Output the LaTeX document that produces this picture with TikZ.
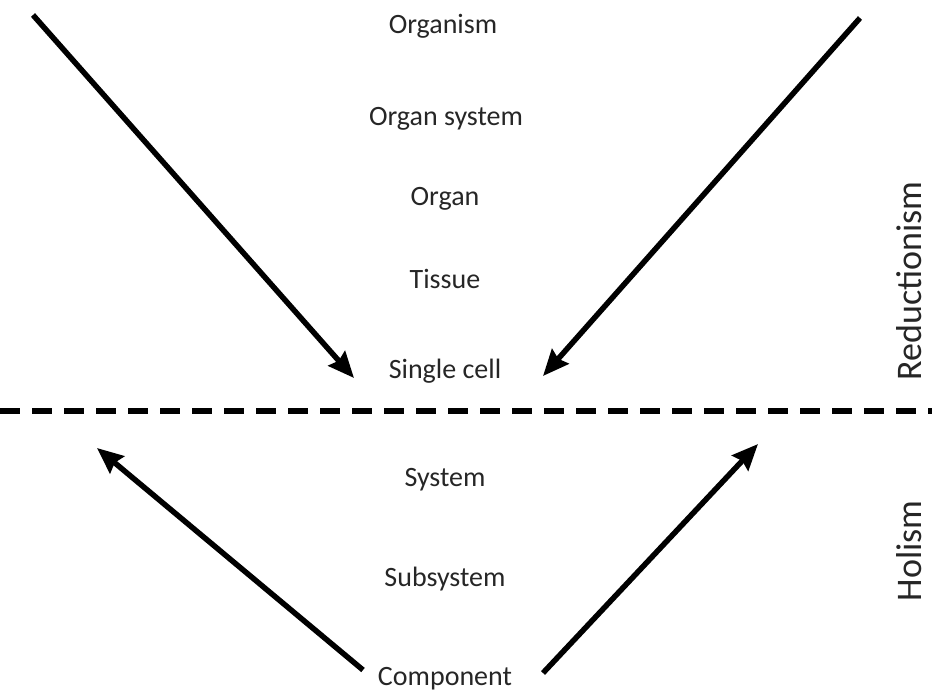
\documentclass[tikz,border=0pt]{standalone}
\usepackage{fontspec}
\setmainfont{Carlito}
\usetikzlibrary{arrows.meta,positioning}

\begin{document}
\begin{tikzpicture}[
  x=1pt, y=-1pt,
  font=\fontsize{28}{32}\selectfont,
  >={Stealth[length=26pt, width=22pt, inset=3pt]},
  level/.style={text=black!85, inner sep=0pt, anchor=base},
  side/.style={text=black!85, inner sep=0pt, rotate=90, anchor=base,
    text depth=0pt, font=\fontsize{36}{40}\selectfont},
  arrow/.style={->, line width=5.5pt, black},
  divide/.style={line width=5.5pt, black, dash pattern=on 20pt off 12pt}
]
  \useasboundingbox (0,0) rectangle (932,691);

  % levels of organisation
  \node[level] (organism)  at (443,33)  {Organism};
  \node[level] (orgsystem) at (446,125) {Organ system};
  \node[level] (organ)     at (445,205) {Organ};
  \node[level] (tissue)    at (445,288) {Tissue};
  \node[level] (cell)      at (445,378) {Single cell};
  \node[level] (system)    at (445,486) {System};
  \node[level] (subsystem) at (445,586) {Subsystem};
  \node[level] (component) at (445,685) {Component};

  % side labels
  \node[side] (reduct) at (921,281) {Reductionism};
  \node[side] (holism) at (921,551) {Holism};

  % arrow ends
  \coordinate (tlstart) at (33,15);
  \coordinate (tlend)   at (354,378);
  \coordinate (trstart) at (860,18);
  \coordinate (trend)   at (543,376);
  \coordinate (blstart) at (363,670);
  \coordinate (blend)   at (97,448);
  \coordinate (brstart) at (543,673);
  \coordinate (brend)   at (758,444);
  \coordinate (lineL)   at (0,411);
  \coordinate (lineR)   at (932,411);

  \draw[arrow] (tlstart) -- (tlend);
  \draw[arrow] (trstart) -- (trend);
  \draw[arrow] (blstart) -- (blend);
  \draw[arrow] (brstart) -- (brend);

  \draw[divide] (lineL) -- (lineR);
\end{tikzpicture}
\end{document}
